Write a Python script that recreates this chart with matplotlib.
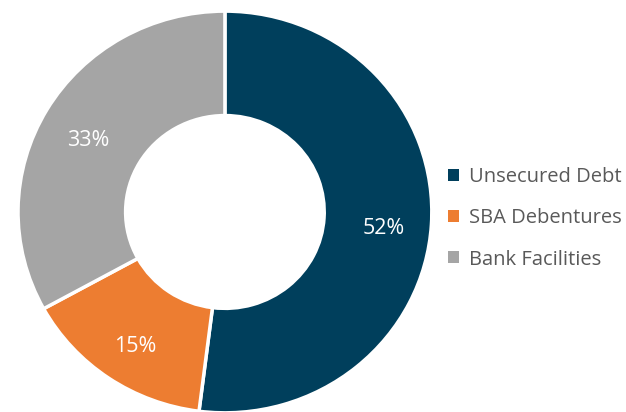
import matplotlib
matplotlib.use("Agg")
import matplotlib.pyplot as plt
from matplotlib.patches import Patch

categories = ["Unsecured Debt", "SBA Debentures", "Bank Facilities"]
values = [52, 15, 33]
colors = ["#003F5C", "#ED7D31", "#A5A5A5"]

plt.rcParams['font.family'] = ['Open Sans', 'DejaVu Sans']

fig = plt.figure(figsize=(6.26, 4.12), dpi=100)
ax = fig.add_axes([0.0288, -0.002, 0.661, 0.975])
wedges, texts, autotexts = ax.pie(
    values, colors=colors, startangle=90, counterclock=False,
    autopct=lambda p: f"{p:.0f}%", pctdistance=0.77,
    wedgeprops=dict(width=0.52, edgecolor="white", linewidth=2.5),
    textprops=dict(color="white", fontsize=15.5),
)
for t in autotexts:
    x, y = t.get_position()
    t.set_position((x, y - 0.035))
ax.set_xlim(-1, 1)
ax.set_ylim(-1, 1)
ax.set_aspect("auto")

handles = [Patch(facecolor=c, edgecolor="none") for c in colors]
leg = fig.legend(handles, categories, loc="center left", bbox_to_anchor=(0.686, 0.47),
                 frameon=False, fontsize=14.5, handlelength=0.55, handleheight=0.55,
                 handletextpad=0.5, labelspacing=1.05, labelcolor="#595959")

fig.savefig("out.png", dpi=100)
